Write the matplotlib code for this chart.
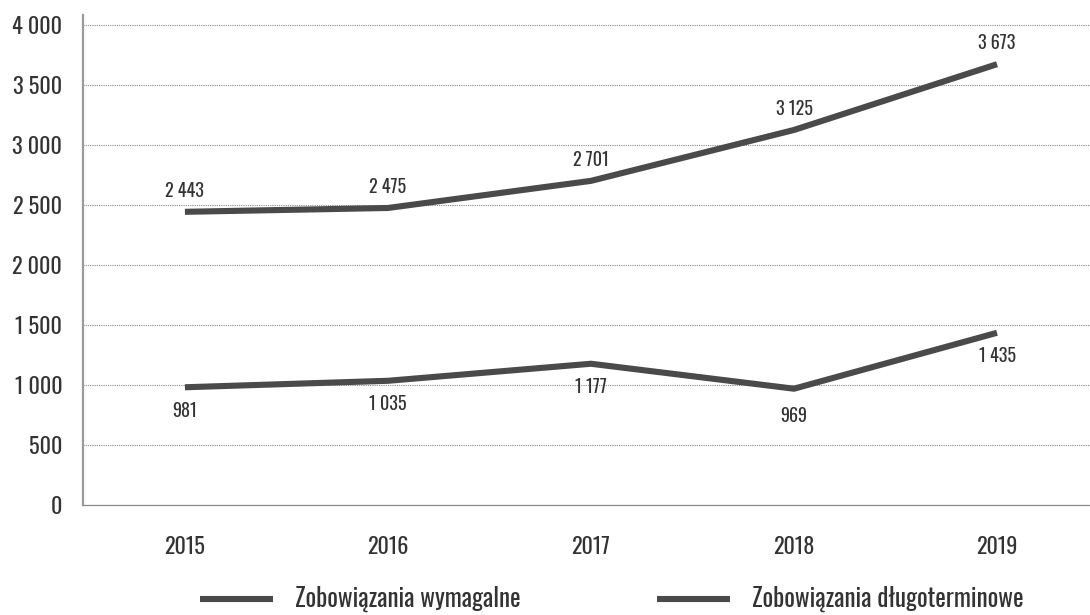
import matplotlib
matplotlib.use("Agg")
import matplotlib.pyplot as plt
from matplotlib import font_manager
from matplotlib.lines import Line2D
from matplotlib.ticker import FuncFormatter

# Data
years = ["2015", "2016", "2017", "2018", "2019"]
wymagalne = [2443, 2475, 2701, 3125, 3673]
dlugoterminowe = [981, 1035, 1177, 969, 1435]
series_names = ["Zobowiązania wymagalne", "Zobowiązania długoterminowe"]
y_ticks = [0, 500, 1000, 1500, 2000, 2500, 3000, 3500, 4000]

# Pick a narrow sans-serif if available
installed = {f.name for f in font_manager.fontManager.ttflist}
family = "DejaVu Sans"
for cand in ["Oswald", "Roboto Condensed", "Liberation Sans Narrow", "DejaVu Sans"]:
    if cand in installed:
        family = cand
        break
plt.rcParams["font.family"] = [family, "DejaVu Sans"]
plt.rcParams["font.weight"] = 300

TEXT = "#333333"
LINE = "#4a4a4a"
W, H = 1090, 615


def fmt(v):
    return f"{int(v):,}".replace(",", " ")


fig = plt.figure(figsize=(W / 100, H / 100), dpi=100)
ax = fig.add_axes([83 / W, 110 / H, 1 - 83 / W, 490 / H])

x = list(range(len(years)))
line_kw = dict(color=LINE, lw=4.4, solid_joinstyle="round", solid_capstyle="butt")
l1, = ax.plot(x, wymagalne, zorder=3, **line_kw)
l2, = ax.plot(x, dlugoterminowe, zorder=3, **line_kw)

ax.set_xlim(-0.502, 4.458)
ax.set_ylim(0, 4083)

ax.set_yticks(y_ticks)
ax.yaxis.set_major_formatter(FuncFormatter(lambda v, p: fmt(v)))
ax.set_xticks(x)
ax.set_xticklabels(years)
ax.tick_params(axis="y", length=0, pad=15, labelsize=16, labelcolor=TEXT)
ax.tick_params(axis="x", length=0, pad=22, labelsize=16, labelcolor=TEXT)

ax.grid(axis="y", color="#8a8a8a", lw=0.8, ls=(0, (1, 1)), zorder=1)
ax.set_axisbelow(True)
for s in ["top", "right"]:
    ax.spines[s].set_visible(False)
ax.spines["bottom"].set_color("#8a8a8a")
ax.spines["bottom"].set_linestyle((0, (1, 1)))
ax.spines["bottom"].set_linewidth(0.9)
ax.spines["left"].set_color("#9a9a9a")
ax.spines["left"].set_linewidth(1.6)

# Value labels
for xi, v in zip(x, wymagalne):
    ax.annotate(fmt(v), (xi, v), xytext=(0, 15), textcoords="offset points",
                ha="center", va="center", fontsize=13, color=TEXT)
for xi, v in zip(x, dlugoterminowe):
    off = -20 if xi == 3 else -17
    ax.annotate(fmt(v), (xi, v), xytext=(0, off), textcoords="offset points",
                ha="center", va="center", fontsize=13, color=TEXT)

# Legend entries laid out along the bottom
legend_y = 1 - 599 / H
for handle, name, x0 in zip([l1, l2], series_names, [200, 657]):
    fig.add_artist(Line2D([x0 / W, (x0 + 73) / W], [legend_y, legend_y],
                          transform=fig.transFigure, color=handle.get_color(),
                          lw=handle.get_linewidth(), solid_capstyle="butt"))
    fig.text((x0 + 95) / W, legend_y, name, ha="left", va="center",
             fontsize=18, color=TEXT)

fig.savefig("out.png", dpi=100, facecolor="white")
